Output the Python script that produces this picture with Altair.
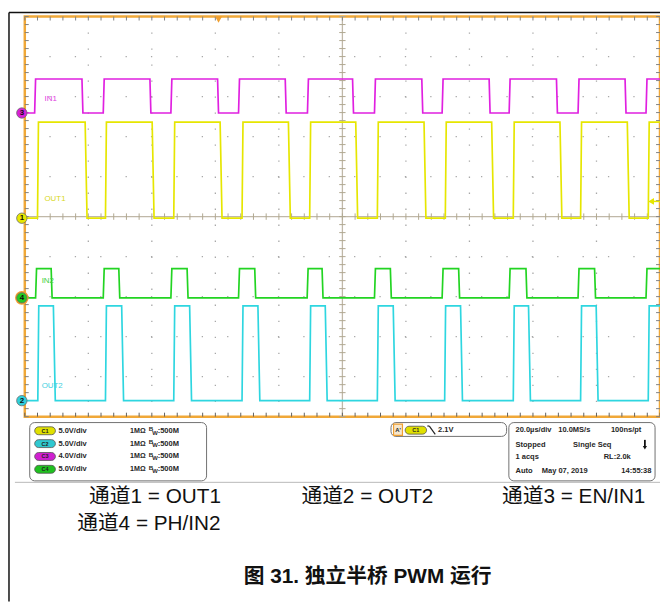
import altair as alt
import pandas as pd

# ---------------- data (time in µs, 20 µs/div; vertical in screen divisions) ----------------
T_MIN, T_MAX = 0, 200
Y_MIN, Y_MAX = -5, 5

channels = ["IN1", "OUT1", "IN2", "OUT2"]
ch_colors = ["#e020e0", "#e6e600", "#22d422", "#2ed6e0"]

in1_rise = [3.1, 24.7, 46.0, 67.3, 89.0, 110.1, 131.4, 152.5, 174.2, 195.6]
in1_fall = [18.0, 39.4, 60.7, 82.0, 103.2, 125.0, 146.2, 167.4, 189.0]
in1_levels = [2.59, 3.44]

out1_rise = [4.0, 25.4, 46.9, 68.4, 89.7, 111.0, 132.4, 153.8, 175.0, 196.3]
out1_fall = [19.0, 40.1, 61.5, 83.0, 104.2, 125.7, 147.0, 168.5, 189.7]
out1_levels = [-0.04, 2.36]

in2_rise = [3.4, 24.7, 46.0, 67.3, 88.9, 110.1, 131.4, 152.5, 174.2, 195.6]
in2_fall = [8.3, 29.6, 51.1, 72.4, 93.6, 115.1, 136.6, 157.8, 179.4]
in2_levels = [-2.03, -1.30]

out2_rise = [4.1, 25.4, 46.9, 68.4, 89.7, 111.0, 132.2, 153.8, 175.0, 196.3]
out2_fall = [9.0, 30.5, 51.9, 73.4, 94.6, 116.0, 137.2, 158.6, 179.9]
out2_levels = [-4.60, -2.23]

marker_nums = ["3", "1", "4", "2"]
marker_levels = [2.59, -0.04, -2.03, -4.60]
marker_colors = ["#d81ed8", "#e8e800", "#22cc22", "#2ed0dc"]

trace_labels = ["IN1", "OUT1", "IN2", "OUT2"]
label_t = [6.2, 6.2, 5.3, 5.3]
label_v = [2.93, 0.43, -1.62, -4.23]
label_colors = ["#e040e0", "#d8d820", "#40d040", "#40d0e0"]

major_t = [20, 40, 60, 80, 120, 140, 160, 180]
major_v = [-4, -3, -2, -1, 1, 2, 3, 4]
minor_t = list(range(0, 201, 4))
minor_v = [round(-5 + 0.2 * k, 1) for k in range(51)]

trig_t = 61
trig_level = 0.38

volts_div = ["5.0V/div", "5.0V/div", "4.0V/div", "5.0V/div"]
pill_names = ["C1", "C2", "C3", "C4"]
pill_colors = ["#e0e000", "#30c8d0", "#d020d0", "#20c020"]

captions = ["通道1 = OUT1", "通道2 = OUT2", "通道3 = EN/IN1", "通道4 = PH/IN2"]
title_text = "图 31. 独立半桥 PWM 运行"

FONT = "Liberation Sans, Arial, Noto Sans CJK SC"


def steps(name, rises, falls, levels, tr_r=0.3, tr_f=0.3):
    lo, hi = levels
    ev = sorted([(t, hi, tr_r) for t in rises] + [(t, lo, tr_f) for t in falls])
    pts = [(T_MIN, lo)]
    cur = lo
    for t, lev, tr in ev:
        pts.append((t, cur))
        pts.append((t + tr, lev))
        cur = lev
    pts.append((T_MAX, cur))
    return [{"ch": name, "t": t, "v": v, "i": k} for k, (t, v) in enumerate(pts)]


rows = []
rows += steps("IN1", in1_rise, in1_fall, in1_levels)
rows += steps("OUT1", out1_rise, out1_fall, out1_levels, 0.3, 0.6)
rows += steps("IN2", in2_rise, in2_fall, in2_levels)
rows += steps("OUT2", out2_rise, out2_fall, out2_levels, 0.3, 0.6)
waves = pd.DataFrame(rows)

xs = alt.Scale(domain=[T_MIN, T_MAX], nice=False, zero=False)
ys = alt.Scale(domain=[Y_MIN, Y_MAX], nice=False, zero=False)
X = alt.X("t:Q", scale=xs, axis=None)
Y = alt.Y("v:Q", scale=ys, axis=None)
one = pd.DataFrame({"a": [0]})

layers = []

# grid
layers.append(alt.Chart(pd.DataFrame({"t": major_t})).mark_rule(
    color="#a8a8a8", strokeWidth=1.3, strokeDash=[1.3, 14.9]).encode(x=X))
layers.append(alt.Chart(pd.DataFrame({"v": major_v})).mark_rule(
    color="#a8a8a8", strokeWidth=1.3, strokeDash=[1.3, 24.4]).encode(y=Y))
# center lines
layers.append(alt.Chart(pd.DataFrame({"t": [100]})).mark_rule(
    color="#c0b8a8", strokeWidth=1.3).encode(x=X))
layers.append(alt.Chart(pd.DataFrame({"v": [0]})).mark_rule(
    color="#c0b8a8", strokeWidth=1.3).encode(y=Y))

# minor ticks
tdf = pd.DataFrame({"t": minor_t})
vdf = pd.DataFrame({"v": minor_v})
layers.append(alt.Chart(tdf).mark_rule(color="#808080").encode(x=X, y=alt.value(0), y2=alt.value(4)))
layers.append(alt.Chart(tdf).mark_rule(color="#606060").encode(x=X, y=alt.value(401), y2=alt.value(405)))
ctdf = pd.DataFrame({"t": minor_t, "v0": [-0.08] * len(minor_t), "v1": [0.08] * len(minor_t)})
layers.append(alt.Chart(ctdf).mark_rule(color="#b0a890").encode(
    x=X, y=alt.Y("v0:Q", scale=ys, axis=None), y2="v1:Q"))
layers.append(alt.Chart(vdf).mark_rule(color="#808080").encode(y=Y, x=alt.value(0), x2=alt.value(4)))
layers.append(alt.Chart(vdf).mark_rule(color="#808080").encode(y=Y, x=alt.value(639), x2=alt.value(643)))
cvdf = pd.DataFrame({"v": minor_v, "t0": [99.0] * len(minor_v), "t1": [101.0] * len(minor_v)})
layers.append(alt.Chart(cvdf).mark_rule(color="#b0a890").encode(
    y=Y, x=alt.X("t0:Q", scale=xs, axis=None), x2="t1:Q"))

# waveforms
layers.append(alt.Chart(waves).mark_line(strokeWidth=1.7, interpolate="linear").encode(
    x=X, y=Y, order="i:Q",
    color=alt.Color("ch:N", scale=alt.Scale(domain=channels, range=ch_colors), legend=None),
    detail="ch:N"))

# trace labels
ldf = pd.DataFrame({"lab": trace_labels, "t": label_t, "v": label_v, "c": label_colors})
layers.append(alt.Chart(ldf).mark_text(align="left", baseline="middle", fontSize=8, font=FONT).encode(
    x=X, y=Y, text="lab:N", color=alt.Color("c:N", scale=None)))

# channel markers
mdf = pd.DataFrame({"n": marker_nums, "v": marker_levels, "c": marker_colors})
layers.append(alt.Chart(mdf[mdf.n == "4"]).mark_circle(size=190, color="#f0a030", opacity=1).encode(
    x=alt.value(-3), y=Y))
layers.append(alt.Chart(mdf).mark_circle(size=110, opacity=1, stroke="#6a6a6a", strokeWidth=0.8).encode(
    x=alt.value(-3), y=Y, color=alt.Color("c:N", scale=None)))
layers.append(alt.Chart(mdf).mark_text(fontSize=8, fontWeight="bold", color="#111", baseline="middle", font=FONT).encode(
    x=alt.value(-3), y=Y, text="n:N"))

# trigger markers
layers.append(alt.Chart(pd.DataFrame({"t": [trig_t]})).mark_point(
    shape="triangle-down", filled=True, size=55, color="#f0a030", opacity=1).encode(x=X, y=alt.value(3)))
layers.append(alt.Chart(pd.DataFrame({"v": [trig_level]})).mark_rule(color="#e6e600", strokeWidth=1.5).encode(
    y=Y, x=alt.value(634), x2=alt.value(643)))
layers.append(alt.Chart(pd.DataFrame({"v": [trig_level]})).mark_point(
    shape="triangle-left", filled=True, size=45, color="#e6e600", opacity=1).encode(y=Y, x=alt.value(634)))


# ---------------- info panels / decorations (pixel positions relative to plot origin) ----------------
def txt(s, x, y, size=7.6, bold=True, align="left", color="#262626", baseline="middle", font=FONT):
    return alt.Chart(one).mark_text(text=s, fontSize=size, fontWeight="bold" if bold else "normal",
                                    align=align, baseline=baseline, color=color, font=font).encode(
        x=alt.value(x), y=alt.value(y))


def box(x1, x2, y1, y2, fill="white", stroke="#707070", r=5, sw=1):
    return alt.Chart(one).mark_rect(cornerRadius=r, fill=fill, stroke=stroke, strokeWidth=sw).encode(
        x=alt.value(x1), x2=alt.value(x2), y=alt.value(y1), y2=alt.value(y2))


def line(x1, y1, x2, y2, color="#000", w=1):
    return alt.Chart(one).mark_rule(color=color, strokeWidth=w).encode(
        x=alt.value(x1), x2=alt.value(x2), y=alt.value(y1), y2=alt.value(y2))


# outer frame
layers.append(line(-16, -4, -16, 592, "#111", 1.5))
layers.append(line(-16, -4, 643, -4, "#111", 1.5))
# separator
layers.append(line(-10, 471.5, 643, 471.5, "#b8b8b8", 1))

# panel 1: channel settings
layers.append(box(5, 184, 411, 470))
row_y = [419.3, 432.3, 445.3, 458.3]
for k in range(4):
    yy = row_y[k]
    layers.append(box(10, 31, yy - 4, yy + 4, fill=pill_colors[k], stroke="#555", r=4, sw=0.8))
    layers.append(txt(pill_names[k], 20.5, yy, size=5.5, align="center", color="#222"))
    layers.append(txt(volts_div[k], 34, yy))
    layers.append(txt("1MΩ", 106.5, yy, size=7.2))
    layers.append(txt("B", 125.5, yy - 1.5, size=6.3))
    layers.append(txt("W", 129.0, yy + 1.8, size=6.0))
    layers.append(txt(":500M", 134.5, yy))

# panel 2: trigger
layers.append(box(370.7, 487.7, 411, 425))
layers.append(box(373.3, 382.3, 412.5, 424, fill="#f6e6cc", stroke="#f0a030", r=0, sw=1.2))
layers.append(txt("A'", 377.8, 418.5, size=6, align="center"))
layers.append(box(385, 406.7, 414.7, 422.7, fill="#e0e000", stroke="#555", r=4, sw=0.8))
layers.append(txt("C1", 395.8, 418.7, size=5.5, align="center"))
layers.append(line(407.5, 414.5, 409.5, 414.5, "#222", 1.2))
layers.append(line(409.5, 414.5, 415.5, 423, "#222", 1.2))
layers.append(txt("2.1V", 418.3, 418.7))

# panel 3: timebase
layers.append(box(490, 638, 411, 470))
r3 = [418.7, 433.3, 446.0, 459.7]
layers.append(txt("20.0µs/div", 496.7, r3[0]))
layers.append(txt("10.0MS/s", 540, r3[0]))
layers.append(txt("100ns/pt", 593.3, r3[0]))
layers.append(txt("Stopped", 496.7, r3[1]))
layers.append(txt("Single Seq", 555, r3[1]))
layers.append(line(627.7, 428.5, 627.7, 435.5, "#111", 1.8))
layers.append(alt.Chart(one).mark_point(shape="triangle-down", filled=True, size=18, color="#111", opacity=1).encode(
    x=alt.value(627.7), y=alt.value(436.5)))
layers.append(txt("1 acqs", 496.7, r3[2]))
layers.append(txt("RL:2.0k", 586, r3[2]))
layers.append(txt("Auto", 496.7, r3[3]))
layers.append(txt("May 07, 2019", 523.3, r3[3]))
layers.append(txt("14:55:38", 634.3, r3[3], align="right"))

# captions
layers.append(txt(captions[0], 65, 492.7, size=21, bold=False, color="#111", baseline="alphabetic"))
layers.append(txt(captions[1], 280, 492.7, size=21, bold=False, color="#111", baseline="alphabetic"))
layers.append(txt(captions[2], 483, 492.7, size=21, bold=False, color="#111", baseline="alphabetic"))
layers.append(txt(captions[3], 53, 519.7, size=21, bold=False, color="#111", baseline="alphabetic"))
layers.append(txt(title_text, 347, 573, size=21, bold=True, align="center", color="#111", baseline="alphabetic"))

chart = alt.layer(*layers).properties(
    width=643, height=405,
    autosize=alt.AutoSizeParams(type="none"),
    padding={"left": 17, "top": 5, "right": 0, "bottom": 187},
    background="white",
).configure_view(stroke="#f0a838", strokeWidth=2.5)

chart.save("out.html", embed_options={"renderer": "svg", "actions": False})
